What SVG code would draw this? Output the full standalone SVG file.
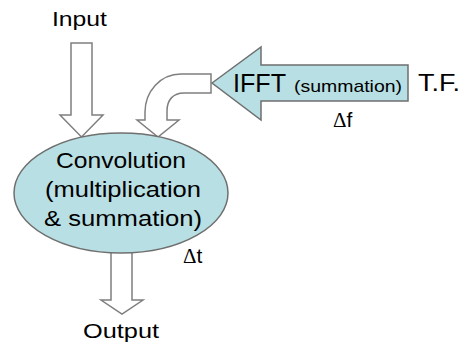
<svg xmlns="http://www.w3.org/2000/svg" width="466" height="346" viewBox="0 0 466 346">
<style>
.t{font-family:"Liberation Sans",Arial,sans-serif;fill:#000}
.d{font-family:"Liberation Serif","Times New Roman",serif}
.ar{fill:#fff;stroke:#7f7f7f;stroke-width:1.5;stroke-linejoin:miter}
.blue{fill:#b8dfe3;stroke:#6f6f6f;stroke-width:1.5}
</style>
<rect width="466" height="346" fill="#fff"/>
<g id="connectors">
<path id="output-arrow" class="ar" d="M111,240 V300 H101 L122,314 L143,300 H132 V240 Z"/>
<path id="input-arrow" class="ar" d="M71,43 H92 V115 H103 L81.5,137 L60,115 H71 Z"/>
<path id="ifft-to-conv" class="ar" d="M211,74 H181 C160,74 145,92 145,112 V120 H137 L158,137 L179,120 H167 V111 C167,100 173,93 184,93 H211 Z"/>
</g>
<g id="convolution">
<ellipse class="blue" cx="121" cy="193" rx="107" ry="60"/>
<text class="t" font-size="22" x="56" y="168" textLength="130" lengthAdjust="spacingAndGlyphs">Convolution</text>
<text class="t" font-size="22" x="45" y="197" textLength="156" lengthAdjust="spacingAndGlyphs">(multiplication</text>
<text class="t" font-size="22" x="44" y="226" textLength="158" lengthAdjust="spacingAndGlyphs">&amp; summation)</text>
</g>
<g id="ifft">
<path class="blue" d="M212,83 L261,47 V65 H408 V101 H261 V120 Z"/>
<text class="t" font-size="25" x="233" y="92" textLength="53" lengthAdjust="spacingAndGlyphs">IFFT</text>
<text class="t" font-size="17" x="294" y="92" textLength="108" lengthAdjust="spacingAndGlyphs">(summation)</text>
</g>
<g id="labels">
<text class="t" font-size="21" x="52" y="26" textLength="55" lengthAdjust="spacingAndGlyphs">Input</text>
<text class="t" font-size="21" x="83" y="338" textLength="76" lengthAdjust="spacingAndGlyphs">Output</text>
<text class="t" font-size="24" x="418" y="91" textLength="42" lengthAdjust="spacingAndGlyphs">T.F.</text>
<text class="t" font-size="21" x="333" y="127"><tspan class="d">Δ</tspan>f</text>
<text class="t" font-size="21" x="183" y="263"><tspan class="d">Δ</tspan>t</text>
</g>
</svg>
